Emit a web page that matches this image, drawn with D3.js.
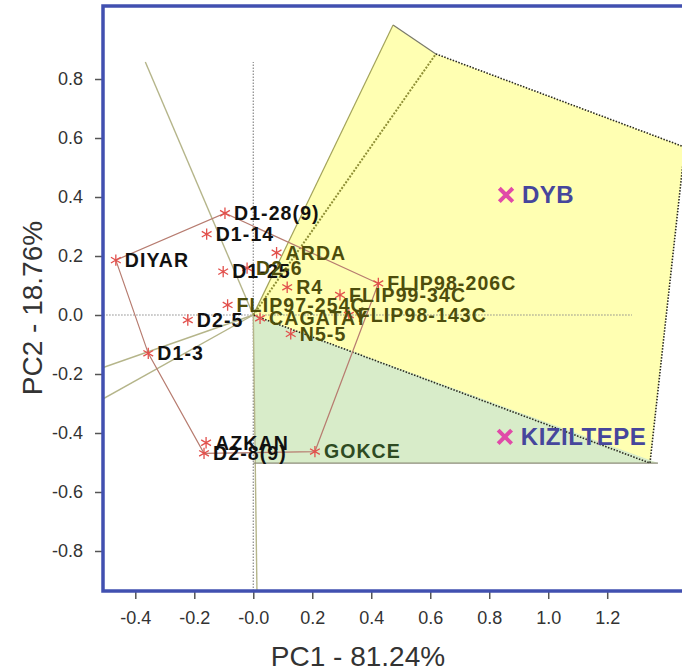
<!DOCTYPE html>
<html>
<head>
<meta charset="utf-8">
<script src="https://cdn.jsdelivr.net/npm/d3@7/dist/d3.min.js"></script>
<style>
  html, body { margin: 0; padding: 0; background: #fff; }
  svg { display: block; font-family: Arial, "Liberation Sans", Helvetica, sans-serif; }
</style>
</head>
<body>
<svg id="chart" width="682" height="671"></svg>
<script>
// ---- genotype scores (PC1, PC2) ----
const genotypes = ["DIYAR", "D1-28(9)", "D1-14", "D1-25", "D2-6", "FLIP97-254C", "D2-5", "D1-3",
  "ARDA", "R4", "CAGATAY", "N5-5", "FLIP99-34C", "FLIP98-206C", "FLIP98-143C",
  "AZKAN", "D2-8(9)", "GOKCE"];
const pc1 = [-0.466, -0.096, -0.158, -0.102, -0.021, -0.087, -0.222, -0.356,
  0.079, 0.115, 0.023, 0.127, 0.294, 0.424, 0.324,
  -0.160, -0.167, 0.209];
const pc2 = [0.186, 0.345, 0.274, 0.147, 0.159, 0.034, -0.017, -0.130,
  0.211, 0.094, -0.011, -0.064, 0.068, 0.107, 0.000,
  -0.433, -0.469, -0.463];
// sector each genotype's label belongs to: 0 = left, 1 = yellow, 2 = green
const groups = [0, 0, 0, 0, 1, 1, 0, 0,
  1, 1, 1, 1, 1, 1, 1,
  0, 0, 2];

// ---- environment scores ----
const environments = ["DYB", "KIZILTEPE"];
const envPc1 = [0.857, 0.853];
const envPc2 = [0.407, -0.413];

// ---- convex hull of the genotypes (vertex order) ----
const hull = ["DIYAR", "D1-28(9)", "FLIP98-206C", "GOKCE", "D2-8(9)", "D1-3"];

// ---- rays from the origin, perpendicular to the hull sides ----
const rayX = [-0.366, -0.509, -0.509, 0.0125];
const rayY = [0.858, -0.178, -0.284, -0.936];

// ---- shaded sectors ----
const yellowX = [0, 0.474, 0.619, 1.463, 1.345];
const yellowY = [0, 0.983, 0.885, 0.569, -0.502];
const greenX = [0, 0.007, 1.372];
const greenY = [0, -0.502, -0.502];

// ---- dotted reference axes ----
const refXRange = [-0.509, 1.284];
const refYRange = [-0.936, 0.858];

// ---- axes ----
const xTicks = [-0.4, -0.2, 0.0, 0.2, 0.4, 0.6, 0.8, 1.0, 1.2];
const xTickLabels = ["-0.4", "-0.2", "-0.0", "0.2", "0.4", "0.6", "0.8", "1.0", "1.2"];
const yTicks = [0.8, 0.6, 0.4, 0.2, 0.0, -0.2, -0.4, -0.6, -0.8];
const yTickLabels = ["0.8", "0.6", "0.4", "0.2", "0.0", "-0.2", "-0.4", "-0.6", "-0.8"];
const xTitle = "PC1 - 81.24%";
const yTitle = "PC2 - 18.76%";

// ---------------------------------------------------------------
const svg = d3.select("#chart");
const frame = { left: 103, top: 6, right: 690, bottom: 591 };

const x = d3.scaleLinear().domain([-0.5095, 1.4807]).range([frame.left, frame.right]);
const y = d3.scaleLinear().domain([-0.9356, 1.0475]).range([frame.bottom, frame.top]);

svg.append("defs").append("clipPath").attr("id", "plotClip")
  .append("rect")
  .attr("x", frame.left).attr("y", frame.top)
  .attr("width", frame.right - frame.left).attr("height", frame.bottom - frame.top);

const plot = svg.append("g").attr("clip-path", "url(#plotClip)");
const line = d3.line().x(d => x(d[0])).y(d => y(d[1]));

// shaded sectors
const yellowPts = yellowX.map((v, i) => [v, yellowY[i]]);
const greenPts = greenX.map((v, i) => [v, greenY[i]]);
plot.append("path").attr("d", line(yellowPts) + "Z").attr("fill", "#ffffb2").attr("stroke", "none");
plot.append("path").attr("d", line(greenPts) + "Z").attr("fill", "#d8ecc9").attr("stroke", "none");

// dotted reference axes through the origin
plot.append("path").attr("d", line([[refXRange[0], 0], [refXRange[1], 0]]))
  .attr("stroke", "#8a8a8a").attr("stroke-width", 1.2).attr("stroke-dasharray", "1.5,1.5").attr("fill", "none");
plot.append("path").attr("d", line([[0, refYRange[0]], [0, refYRange[1]]]))
  .attr("stroke", "#8a8a8a").attr("stroke-width", 1.2).attr("stroke-dasharray", "1.5,1.5").attr("fill", "none");

// rays bounding the white sector
rayX.forEach((v, i) => {
  plot.append("path").attr("d", line([[0, 0], [v, rayY[i]]]))
    .attr("stroke", "#b5b58a").attr("stroke-width", 1.4).attr("fill", "none");
});

// green sector base
plot.append("path").attr("d", line([[greenX[0], greenY[1]], [greenX[2], greenY[2]]]))
  .attr("stroke", "#8c8c78").attr("stroke-width", 1.4).attr("fill", "none");

// yellow sector outline
plot.append("path").attr("d", line([yellowPts[0], yellowPts[1]]))
  .attr("stroke", "#a3a35a").attr("stroke-width", 1.2).attr("fill", "none");
plot.append("path").attr("d", line([yellowPts[1], yellowPts[2]]))
  .attr("stroke", "#7a7a6a").attr("stroke-width", 1.2).attr("fill", "none");
plot.append("path").attr("d", line([yellowPts[0], yellowPts[2]]))
  .attr("stroke", "#8f8f35").attr("stroke-width", 2).attr("stroke-dasharray", "2,1.5").attr("fill", "none");
plot.append("path").attr("d", line([yellowPts[2], yellowPts[3], yellowPts[4], yellowPts[0]]))
  .attr("stroke", "#2a2a20").attr("stroke-width", 1.6).attr("stroke-dasharray", "1.5,1.5").attr("fill", "none");

// convex hull
const hullPts = hull.map(n => { const i = genotypes.indexOf(n); return [pc1[i], pc2[i]]; });
plot.append("path").attr("d", line(hullPts) + "Z")
  .attr("stroke", "#b77c70").attr("stroke-width", 1.2).attr("fill", "none");

// genotype markers
const asterisk = d3.symbol().type(d3.symbolAsterisk).size(90);
genotypes.forEach((g, i) => {
  plot.append("path").attr("d", asterisk())
    .attr("transform", `translate(${x(pc1[i])},${y(pc2[i])})`)
    .attr("stroke", "#e2504c").attr("stroke-width", 1.3).attr("fill", "none");
});

// genotype labels
const labelColours = ["#111111", "#4d4d0c", "#2e4a22"];
genotypes.forEach((g, i) => {
  plot.append("text")
    .attr("x", x(pc1[i])).attr("y", y(pc2[i]))
    .attr("dx", 9).attr("dy", "0.35em")
    .attr("font-size", 19.5).attr("font-weight", "bold").attr("letter-spacing", 1.1)
    .attr("fill", labelColours[groups[i]])
    .text(g);
});

// environment markers and labels
const cross = d3.symbol().type(d3.symbolX).size(120);
environments.forEach((e, i) => {
  plot.append("path").attr("d", cross())
    .attr("transform", `translate(${x(envPc1[i])},${y(envPc2[i])})`)
    .attr("stroke", "#e04aa8").attr("stroke-width", 4).attr("fill", "none");
  plot.append("text")
    .attr("x", x(envPc1[i])).attr("y", y(envPc2[i]))
    .attr("dx", 16).attr("dy", "0.33em")
    .attr("font-size", 24).attr("font-weight", "bold").attr("letter-spacing", 0.5)
    .attr("fill", "#46469c")
    .text(e);
});

// axes
const xAxis = d3.axisBottom(x).tickValues(xTicks)
  .tickFormat((d, i) => xTickLabels[i]).tickSize(8).tickPadding(12);
const gx = svg.append("g").attr("transform", `translate(0,${frame.bottom})`).call(xAxis);
const yAxis = d3.axisLeft(y).tickValues(yTicks)
  .tickFormat((d, i) => yTickLabels[i]).tickSize(8).tickPadding(12);
const gy = svg.append("g").attr("transform", `translate(${frame.left},0)`).call(yAxis);
[gx, gy].forEach(g => {
  g.select(".domain").remove();
  g.selectAll(".tick line").attr("stroke", "#555").attr("stroke-width", 1.5);
  g.selectAll(".tick text").attr("fill", "#333").attr("font-size", 18)
    .attr("font-family", "Arial, 'Liberation Sans', sans-serif");
});

// frame
svg.append("rect")
  .attr("x", frame.left).attr("y", frame.top)
  .attr("width", frame.right - frame.left).attr("height", frame.bottom - frame.top)
  .attr("fill", "none").attr("stroke", "#4150b0").attr("stroke-width", 3.5);

// axis titles
svg.append("text")
  .attr("x", 358).attr("y", 666)
  .attr("text-anchor", "middle").attr("font-size", 28).attr("fill", "#333")
  .text(xTitle);
svg.append("text")
  .attr("transform", "translate(42,308) rotate(-90)")
  .attr("text-anchor", "middle").attr("font-size", 28).attr("fill", "#333")
  .text(yTitle);
</script>
</body>
</html>
